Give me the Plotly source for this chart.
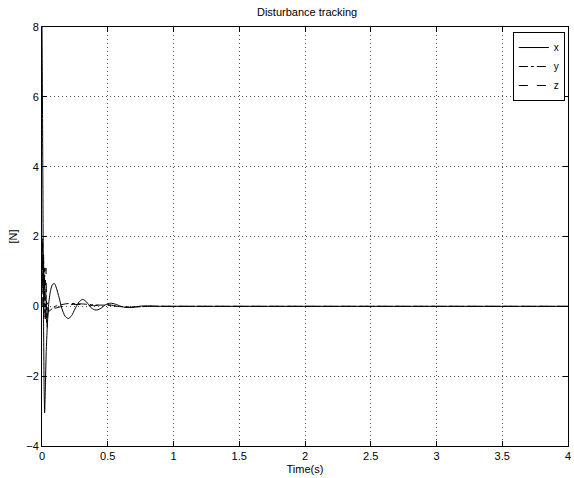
import plotly.graph_objects as go

# Data
t_x = [0, 0.004, 0.008, 0.012, 0.016, 0.02, 0.025, 0.032, 0.04, 0.05, 0.065, 0.08, 0.095, 0.11,
       0.13, 0.15, 0.175, 0.2, 0.225, 0.25, 0.28, 0.31, 0.34, 0.37, 0.4, 0.425, 0.45, 0.48, 0.52,
       0.56, 0.6, 0.64, 0.7, 0.76, 0.82, 0.9, 1.0, 2.0, 3.0, 4.0]
x_vals = [8.0, 5.5, 2.5, -0.5, -2.3, -3.05, -2.4, -1.3, -0.6, 0.05, 0.45, 0.63, 0.65, 0.52,
          0.25, -0.05, -0.28, -0.35, -0.27, -0.08, 0.12, 0.2, 0.12, -0.03, -0.1, -0.1, -0.05, 0.04, 0.09,
          0.06, 0.0, -0.03, -0.02, 0.01, 0.01, 0.0, 0.0, 0.0, 0.0, 0.0]

t_y = [0, 0.004, 0.008, 0.012, 0.016, 0.02, 0.025, 0.03, 0.035, 0.04, 0.05, 0.06, 0.08, 0.1,
       0.15, 0.2, 0.3, 0.4, 0.5, 0.6, 0.7, 0.8, 1.0, 2.0, 3.0, 4.0]
y_vals = [0.0, 1.8, 0.4, 1.3, -0.3, 0.9, -0.4, 0.5, -0.5, 0.1, -0.15, -0.12, -0.06, 0.0,
          0.05, 0.08, 0.07, 0.04, 0.03, -0.01, -0.02, 0.0, 0.0, 0.0, 0.0, 0.0]

t_z = [0, 0.004, 0.008, 0.012, 0.016, 0.02, 0.025, 0.03, 0.035, 0.04, 0.045, 0.05, 0.06, 0.08,
       0.1, 0.15, 0.2, 0.3, 0.4, 0.5, 0.6, 0.7, 0.8, 1.0, 2.0, 3.0, 4.0]
z_vals = [0.0, 2.0, 0.7, 1.5, 0.2, 1.1, 0.6, 1.1, -0.2, -0.6, -0.2, -0.1, 0.05, 0.0,
          -0.05, 0.0, 0.05, 0.05, 0.02, 0.05, -0.02, -0.03, 0.0, 0.0, 0.0, 0.0, 0.0]

x_ticks = [0, 0.5, 1, 1.5, 2, 2.5, 3, 3.5, 4]
x_tick_labels = ["0", "0.5", "1", "1.5", "2", "2.5", "3", "3.5", "4"]
y_ticks = [-4, -2, 0, 2, 4, 6, 8]
y_tick_labels = ["\u22124", "\u22122", "0", "2", "4", "6", "8"]

FONT = "Liberation Sans, Arial, Helvetica, sans-serif"

fig = go.Figure()
fig.add_trace(go.Scatter(x=t_x, y=x_vals, mode="lines", name="x",
                         line=dict(color="black", width=1, dash="solid", shape="spline", smoothing=0.6)))
fig.add_trace(go.Scatter(x=t_y, y=y_vals, mode="lines", name="y",
                         line=dict(color="black", width=1, dash="dashdot", shape="spline", smoothing=0.6)))
fig.add_trace(go.Scatter(x=t_z, y=z_vals, mode="lines", name="z",
                         line=dict(color="black", width=1, dash="dash", shape="spline", smoothing=0.6)))

axis_common = dict(
    showline=True, linecolor="black", linewidth=1, mirror="ticks",
    ticks="inside", ticklen=5, tickcolor="black", tickwidth=1,
    showgrid=True, gridcolor="#555555", griddash="1px,3px", gridwidth=1,
    zeroline=False, tickfont=dict(family=FONT, size=11, color="black"),
    ticklabeloverflow="allow",
)

fig.update_xaxes(range=[0, 4], tickvals=x_ticks, ticktext=x_tick_labels,
                 title=dict(text="Time(s)", font=dict(family=FONT, size=11, color="black"), standoff=4),
                 **axis_common)
fig.update_yaxes(range=[-4, 8], tickvals=y_ticks, ticktext=y_tick_labels,
                 title=dict(text="[N]", font=dict(family=FONT, size=11, color="black"), standoff=6),
                 **axis_common)

fig.update_layout(
    width=574, height=478,
    margin=dict(l=42, r=3, t=27, b=32),
    paper_bgcolor="white", plot_bgcolor="white",
    title=dict(text="Disturbance tracking", x=0.535, xanchor="center", y=0.975, yanchor="middle",
               font=dict(family=FONT, size=11, color="black")),
    legend=dict(x=0.994, y=0.988, xanchor="right", yanchor="top",
                bgcolor="white", bordercolor="black", borderwidth=1,
                font=dict(family=FONT, size=10, color="black"),
                tracegroupgap=0, itemwidth=30),
    showlegend=True,
)

fig.write_html("out.html", config={"displayModeBar": False},
               post_script="document.body.style.margin='0';document.body.style.padding='0';")
